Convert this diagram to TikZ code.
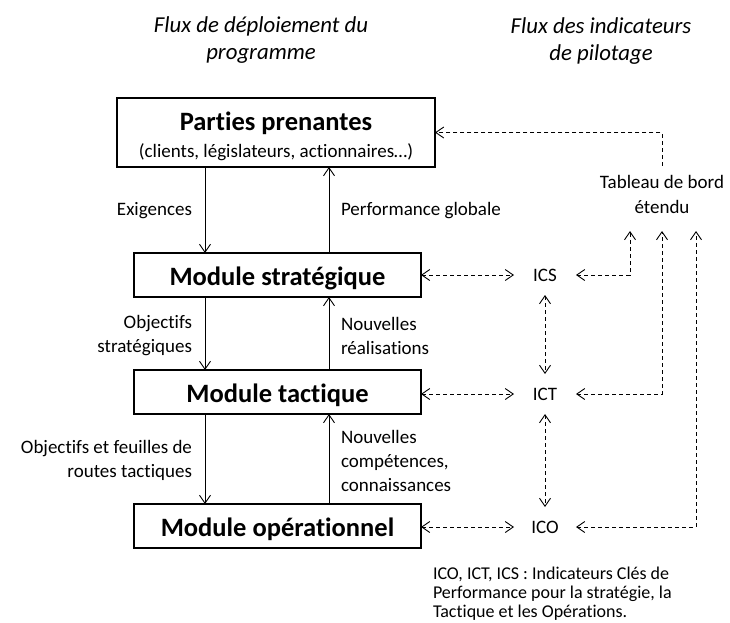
\documentclass[tikz,border=0pt]{standalone}
\usepackage{fontspec}
\setmainfont{Carlito}[Ligatures=NoCommon]
\usetikzlibrary{arrows.meta}
\begin{document}
\begin{tikzpicture}[x=1pt,y=-1pt,
  >={Straight Barb[length=8pt,width=11pt]},
  every node/.style={inner sep=0pt,outer sep=0pt},
  ttl/.style={font=\fontsize{22.8}{27.5}\selectfont\itshape,align=center},
  txt/.style={font=\fontsize{19}{24}\selectfont},
  big/.style={font=\fontsize{26.5}{30}\selectfont\bfseries},
  frame/.style={draw,line width=1.1pt},
  box/.style={frame,big,minimum width=287pt,minimum height=44pt,text height=24pt,text depth=3pt},
  ind/.style={txt,minimum width=62pt,minimum height=40pt},
  arr/.style={line width=0.9pt,->},
  dsh/.style={line width=0.9pt,dash pattern=on 4pt off 3pt}
]
\useasboundingbox (0,0) rectangle (730,622);

% titles
\node[ttl] (t1) at (261,40) {Flux de déploiement du\\programme};
\node[ttl] (t2) at (601,41) {Flux des indicateurs\\de pilotage};

% stakeholders box
\node[frame,minimum width=318pt,minimum height=69pt] (pp) at (276,132.5) {};
\node[big,anchor=base] (ppt) at (276,130) {Parties prenantes};
\node[txt,anchor=base] (pps) at (276,157) {(clients, législateurs, actionnaires…)};

% modules
\node[box] (ms) at (277.5,275) {Module stratégique};
\node[box] (mt) at (277.5,392) {Module tactique};
\node[box] (mo) at (277.5,526) {Module opérationnel};

% vertical arrows
\coordinate (xd) at (205,0);
\coordinate (xu) at (329,0);
\draw[arr] (pp.south -| xd) -- (ms.north -| xd);
\draw[arr] (ms.north -| xu) -- (pp.south -| xu);
\draw[arr] (ms.south -| xd) -- (mt.north -| xd);
\draw[arr] (mt.north -| xu) -- (ms.south -| xu);
\draw[arr] (mt.south -| xd) -- (mo.north -| xd);
\draw[arr] (mo.north -| xu) -- (mt.south -| xu);

% arrow labels
\node[txt,anchor=east,align=right] (l1) at (192,211) {Exigences};
\node[txt,anchor=west,align=left] (l2) at (341,211) {Performance globale};
\node[txt,anchor=east,align=right] (l3) at (192,336) {Objectifs\\stratégiques};
\node[txt,anchor=west,align=left] (l4) at (341,336) {Nouvelles\\réalisations};
\node[txt,anchor=east,align=right] (l5) at (192,460.5) {Objectifs et feuilles de\\routes tactiques};
\node[txt,anchor=west,align=left] (l6) at (341,461) {Nouvelles\\compétences,\\connaissances};

% indicators
\node[ind] (ics) at (545,275) {ICS};
\node[ind] (ict) at (545,394) {ICT};
\node[ind] (ico) at (545,527) {ICO};
\node[font=\fontsize{19}{25}\selectfont,align=center] (tb) at (662,194) {Tableau de bord\\étendu};

\coordinate (u1) at (630,231);
\coordinate (u2) at (662,231);
\coordinate (u3) at (696,231);

\draw[dsh,->,shorten <=9pt] (tb.north) |- (pp.east);
\draw[dsh,<->] (ics.east) -| (u1);
\draw[dsh,<->] (ict.east) -| (u2);
\draw[dsh,<->] (ico.east) -| (u3);
\draw[dsh,<->] (ms.east) -- (ics.west);
\draw[dsh,<->] (ict.west -| mt.east) -- (ict.west);
\draw[dsh,<->] (ico.west -| mo.east) -- (ico.west);
\draw[dsh,<->] (ics.south) -- (ict.north);
\draw[dsh,<->] (ict.south) -- (ico.north);

% note
\node[anchor=south west,align=left,font=\fontsize{18}{19.2}\selectfont] (note) at (433,620.5)
  {ICO, ICT, ICS : Indicateurs Clés de\\Performance pour la stratégie, la\\Tactique et les Opérations.};
\end{tikzpicture}
\end{document}
